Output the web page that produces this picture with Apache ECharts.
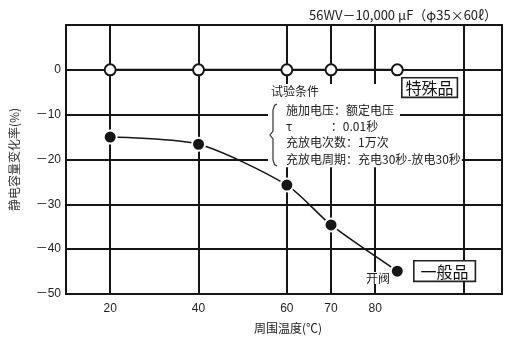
<!DOCTYPE html>
<html>
<head>
<meta charset="utf-8">
<script src="https://cdn.jsdelivr.net/npm/echarts@6/dist/echarts.min.js"></script>
<style>
  html, body { margin: 0; padding: 0; background: #fff; }
  #chart { width: 520px; height: 339px; }
</style>
</head>
<body>
<div id="chart"></div>
<script>
// 周围温度 (℃)
const temps = [20, 40, 60, 70, 85]
// 静电容量变化率 (%)
const specialVals = [0, 0, 0, 0, 0]
const generalVals = [-15, -16.6, -25.7, -34.6, -44.9]
const xTickLabels = [20, 40, 60, 70, 80]
const xGridLines = [20, 40, 60, 70, 80, 100]
const yTickLabels = [0, -10, -20, -30, -40, -50]
const conditions = [
  '施加电压：额定电压',
  'τ　　　 ：0.01秒',
  '充放电次数：1万次',
  '充放电周期：充电30秒-放电30秒'
]

const ink = '#161616'
const cjk = '"Noto Sans CJK SC", sans-serif'
const num = '"Liberation Sans", "Noto Sans CJK SC", sans-serif'

const chart = echarts.init(document.getElementById('chart'))

let graphics = [
  // 条件栏白底
  { type: 'rect', shape: { x: 268, y: 84, width: 132, height: 83 }, style: { fill: '#fff' }, z: 90 },
  { type: 'text', left: 271, top: 85, z: 100,
    style: { text: '试验条件', font: '12px ' + cjk, fill: '#222', backgroundColor: '#fff' } },
  { type: 'polyline', z: 100,
    shape: { points: [[277, 104], [274.5, 105.5], [273, 110], [273, 131], [270, 135], [273, 139], [273, 160], [274.5, 164.5], [277, 166]] },
    style: { fill: 'none', stroke: '#333', lineWidth: 1.2 } },
  { type: 'text', left: 401, top: 77, z: 100,
    style: { text: '特殊品', font: '16px ' + cjk, fill: '#111', backgroundColor: '#fff',
      borderColor: '#222', borderWidth: 1.6, padding: [1, 3, 1, 3] } },
  { type: 'text', left: 413, top: 260, z: 100,
    style: { text: '一般品', font: '16px ' + cjk, fill: '#111', backgroundColor: '#fff',
      borderColor: '#222', borderWidth: 1.6, padding: [2, 6, 1, 6] } },
  { type: 'text', left: 366, top: 272, z: 100,
    style: { text: '开阀', font: '12px ' + cjk, fill: '#222', backgroundColor: '#fff' } }
]
conditions.forEach((t, i) => {
  graphics.push({
    type: 'text', left: 286, top: 102 + i * 16.4, z: 100,
    style: { text: t, font: '12px ' + cjk, fill: '#222', backgroundColor: '#fff', padding: [2, 1, 2, 0] }
  })
})

const option = {
  animation: false,
  title: {
    text: '56WV－10,000 μF（φ35×60ℓ）',
    right: 18, top: 4,
    textStyle: { fontSize: 13, fontWeight: 'normal', color: '#222', fontFamily: cjk }
  },
  grid: {
    left: 66, right: 18, top: 25, bottom: 45,
    show: true, borderColor: ink, borderWidth: 2, containLabel: false
  },
  xAxis: {
    type: 'value', min: 10, max: 108.7,
    name: '周围温度(℃)', nameLocation: 'middle', nameGap: 28,
    nameTextStyle: { fontSize: 12, color: '#222', fontFamily: cjk, padding: [0, 0, 0, 8] },
    axisLine: { show: false },
    axisTick: { show: false },
    splitLine: { show: false },
    axisLabel: { customValues: xTickLabels, fontSize: 12, color: '#222', fontFamily: num, margin: 9 }
  },
  yAxis: {
    type: 'value', min: -50, max: 10, interval: 10,
    name: '静电容量变化率(%)', nameLocation: 'middle', nameGap: 46, nameRotate: 90,
    nameTextStyle: { fontSize: 12, color: '#333', fontFamily: cjk },
    axisLine: { show: false },
    axisTick: { show: false },
    splitLine: { lineStyle: { color: ink, width: 2 } },
    axisLabel: {
      customValues: yTickLabels, fontSize: 12, color: '#222', fontFamily: num, margin: 5,
      formatter: v => (v < 0 ? '－' + Math.abs(v) : String(v))
    }
  },
  series: [
    {
      name: '特殊品', type: 'line',
      data: temps.map((t, i) => [t, specialVals[i]]),
      symbol: 'circle', symbolSize: 11,
      itemStyle: { color: '#fff', borderColor: ink, borderWidth: 2 },
      lineStyle: { color: ink, width: 2 },
      z: 5,
      markLine: {
        silent: true, symbol: ['none', 'none'], label: { show: false },
        lineStyle: { color: ink, width: 2, type: 'solid' },
        data: xGridLines.map(x => ({ xAxis: x }))
      }
    },
    {
      name: '一般品', type: 'line',
      data: temps.map((t, i) => [t, generalVals[i]]),
      smooth: 0.25,
      symbol: 'circle', symbolSize: 13,
      itemStyle: { color: ink, borderColor: '#fff', borderWidth: 2 },
      lineStyle: { color: ink, width: 1.5 },
      z: 6
    }
  ],
  graphic: graphics
}

chart.setOption(option)
</script>
</body>
</html>
